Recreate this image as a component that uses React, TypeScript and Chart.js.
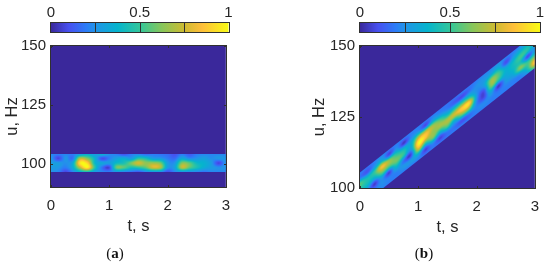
import React, { useEffect, useRef } from "react";
import { Chart, registerables } from "chart.js";

Chart.register(...registerables);

const FONT = "'Liberation Sans', Arial, sans-serif";
const TEXT = "#262626";
const timeGrid = [0, 0.125, 0.25, 0.375, 0.5, 0.625, 0.75, 0.875, 1, 1.125, 1.25, 1.375, 1.5, 1.625, 1.75, 1.875, 2, 2.125, 2.25, 2.375, 2.5, 2.625, 2.75, 2.875, 3];
const colorTicks = [0, 0.5, 1];
const colorDividers = [0.25, 0.5, 0.75];
const timeTicks = [0, 1, 2, 3];
const uTicksA = [100, 125, 150];
const uTicksB = [100, 125, 150];

const parulaStops = [0, 0.1, 0.2, 0.25, 0.375, 0.5, 0.625, 0.75, 0.85, 1];
const parulaColors = [
  [58, 40, 155], [71, 80, 240], [43, 125, 247], [33, 148, 232], [5, 180, 205],
  [50, 198, 155], [135, 198, 90], [205, 187, 50], [254, 190, 58], [249, 251, 21],
];

// Panel (a): rows from the top edge of the band downward, offsets in Hz around the band centre.
const offsetsA = [3.8, 1.9, 0, -1.9, -3.8];
const valuesA = [
  [0.22, 0.2, 0.22, 0.2, 0.28, 0.36, 0.28, 0.36, 0.24, 0.2, 0.1, 0.2, 0.22, 0.16, 0.2, 0.18, 0.16, 0.1, 0.2, 0.12, 0.2, 0.22, 0.22, 0.22, 0.22],
  [0.26, 0.08, 0.26, 0.18, 0.72, 0.62, 0.38, 0.1, 0.2, 0.3, 0.36, 0.28, 0.48, 0.44, 0.3, 0.28, 0.2, 0.16, 0.34, 0.24, 0.26, 0.3, 0.24, 0.26, 0.26],
  [0.28, 0.28, 0.24, 0.34, 0.95, 0.9, 0.4, 0.32, 0.28, 0.4, 0.44, 0.6, 0.76, 0.64, 0.66, 0.6, 0.28, 0.26, 0.62, 0.56, 0.4, 0.36, 0.28, 0.08, 0.26],
  [0.28, 0.26, 0.2, 0.34, 0.72, 0.98, 0.48, 0.18, 0.08, 0.58, 0.56, 0.44, 0.48, 0.56, 0.76, 0.7, 0.28, 0.3, 0.72, 0.56, 0.44, 0.34, 0.28, 0.24, 0.26],
  [0.24, 0.22, 0.08, 0.22, 0.36, 0.42, 0.28, 0.22, 0.2, 0.26, 0.22, 0.18, 0.12, 0.22, 0.26, 0.26, 0.1, 0.22, 0.26, 0.24, 0.22, 0.18, 0.22, 0.22, 0.22],
];

// Panel (b): rows follow the rising band.
const offsetsB = [6, 4, 2, 0, -2, -4, -6];
const valuesB = [
  [0.2, 0.18, 0.2, 0.22, 0.18, 0.2, 0.2, 0.2, 0.2, 0.18, 0.2, 0.18, 0.18, 0.17, 0.2, 0.18, 0.2, 0.22, 0.22, 0.24, 0.22, 0.2, 0.2, 0.22, 0.24],
  [0.2, 0.12, 0.26, 0.36, 0.1, 0.26, 0.05, 0.22, 0.26, 0.12, 0.3, 0.26, 0.2, 0.14, 0.1, 0.18, 0.24, 0.26, 0.32, 0.36, 0.1, 0.26, 0.36, 0.4, 0.38],
  [0.55, 0.42, 0.5, 0.82, 0.65, 0.5, 0.4, 0.34, 0.7, 0.75, 0.68, 0.56, 0.4, 0.46, 0.5, 0.44, 0.24, 0.28, 0.64, 0.55, 0.34, 0.4, 0.52, 0.44, 0.28],
  [0.45, 0.42, 0.36, 0.6, 0.55, 0.6, 0.48, 0.28, 0.97, 0.86, 0.66, 0.68, 0.7, 0.76, 0.88, 0.9, 0.28, 0.1, 0.62, 0.48, 0.34, 0.4, 0.44, 0.1, 0.32],
  [0.34, 0.28, 0.06, 0.28, 0.08, 0.4, 0.18, 0.08, 0.75, 0.48, 0.62, 0.4, 0.56, 0.38, 0.6, 0.6, 0.22, 0.08, 0.34, 0.06, 0.28, 0.34, 0.62, 0.5, 0.6],
  [0.24, 0.24, 0.18, 0.24, 0.2, 0.22, 0.26, 0.26, 0.32, 0.08, 0.24, 0.08, 0.2, 0.18, 0.12, 0.18, 0.22, 0.22, 0.22, 0.18, 0.22, 0.22, 0.26, 0.46, 0.9],
  [0.22, 0.2, 0.2, 0.22, 0.2, 0.2, 0.2, 0.2, 0.2, 0.18, 0.18, 0.18, 0.18, 0.2, 0.2, 0.2, 0.2, 0.2, 0.2, 0.2, 0.2, 0.2, 0.2, 0.26, 0.55],
];

function parula(v: number) {
  const x = Math.max(0, Math.min(1, v));
  let i = 0;
  while (i < parulaStops.length - 2 && x > parulaStops[i + 1]) i++;
  const f = (x - parulaStops[i]) / (parulaStops[i + 1] - parulaStops[i]);
  return parulaColors[i].map((c, k) => Math.round(c + (parulaColors[i + 1][k] - c) * f));
}
const rgb = (c: number[]) => `rgb(${c[0]},${c[1]},${c[2]})`;

function framePlugin(): any {
  return {
    id: "frame",
    afterDraw(chart: any) {
      const { ctx, chartArea: a, scales } = chart;
      ctx.save();
      ctx.strokeStyle = "#303030";
      ctx.lineWidth = 1;
      const L = Math.round(a.left) - 0.5, R = Math.round(a.right) + 0.5;
      const T = Math.round(a.top) - 0.5, B = Math.round(a.bottom) + 0.5;
      ctx.strokeRect(L, T, R - L, B - T);
      ctx.beginPath();
      for (const t of scales.x.ticks) {
        const x = Math.round(scales.x.getPixelForValue(t.value)) + 0.5;
        ctx.moveTo(x, T); ctx.lineTo(x, T + 2.5);
        ctx.moveTo(x, B); ctx.lineTo(x, B - 2.5);
      }
      for (const t of scales.y.ticks) {
        const y = Math.round(scales.y.getPixelForValue(t.value)) + 0.5;
        ctx.moveTo(L, y); ctx.lineTo(L + 2.5, y);
        ctx.moveTo(R, y); ctx.lineTo(R - 2.5, y);
      }
      ctx.stroke();
      ctx.restore();
    },
  };
}

// Catmull-Rom kernel: resamples the grid for display, colour-mapping afterwards.
function cubic(a: number, b: number, c: number, d: number, t: number) {
  return b + 0.5 * t * (c - a + t * (2 * a - 5 * b + 4 * c - d + t * (3 * (b - c) + d - a)));
}

function heatPlugin(values: number[][], offsets: number[], centre: number, slope: number): any {
  return {
    id: "heat",
    beforeDatasetsDraw(chart: any) {
      const { ctx, chartArea: a, scales } = chart;
      ctx.save();
      ctx.fillStyle = rgb(parula(0));
      ctx.fillRect(a.left, a.top, a.width, a.height);
      ctx.beginPath();
      ctx.rect(a.left, a.top, a.width, a.height);
      ctx.clip();
      const W = timeGrid.length, H = offsets.length, S = 8;
      const iw = (W - 1) * S + 1, ih = (H - 1) * S + 1;
      const off = document.createElement("canvas");
      off.width = iw; off.height = ih;
      const oc = off.getContext("2d")!;
      const img = oc.createImageData(iw, ih);
      const at = (j: number, i: number) => values[Math.max(0, Math.min(H - 1, j))][Math.max(0, Math.min(W - 1, i))];
      for (let py = 0; py < ih; py++) {
        const j = Math.min(H - 2, Math.floor(py / S)), fy = py / S - j;
        for (let px = 0; px < iw; px++) {
          const i = Math.min(W - 2, Math.floor(px / S)), fx = px / S - i;
          const col = [-1, 0, 1, 2].map((dj) =>
            cubic(at(j + dj, i - 1), at(j + dj, i), at(j + dj, i + 1), at(j + dj, i + 2), fx));
          const c = parula(cubic(col[0], col[1], col[2], col[3], fy));
          const p = (py * iw + px) * 4;
          img.data[p] = c[0]; img.data[p + 1] = c[1]; img.data[p + 2] = c[2]; img.data[p + 3] = 255;
        }
      }
      oc.putImageData(img, 0, 0);
      const t0 = timeGrid[0], t1 = timeGrid[W - 1];
      const x0 = scales.x.getPixelForValue(t0), x1 = scales.x.getPixelForValue(t1);
      const yAt = (t: number, o: number) => scales.y.getPixelForValue(centre + slope * t + o);
      const y00 = yAt(t0, offsets[0]);
      const yR = yAt(t1, offsets[0]);
      const yB = yAt(t0, offsets[H - 1]);
      ctx.transform((x1 - x0) / (iw - 1), (yR - y00) / (iw - 1), 0, (yB - y00) / (ih - 1), x0, y00);
      ctx.imageSmoothingEnabled = true;
      ctx.imageSmoothingQuality = "high";
      ctx.drawImage(off, 0.5, 0.5, iw - 1, ih - 1, 0, 0, iw - 1, ih - 1);
      ctx.restore();
    },
  };
}

const colorbarPlugin: any = {
  id: "colorbar",
  beforeDatasetsDraw(chart: any) {
    const { ctx, chartArea: a, scales } = chart;
    const g = ctx.createLinearGradient(a.left, 0, a.right, 0);
    parulaStops.forEach((s, i) => g.addColorStop(s, rgb(parulaColors[i])));
    ctx.save();
    ctx.fillStyle = g;
    ctx.fillRect(a.left, a.top, a.width, a.height);
    ctx.strokeStyle = "#303030";
    ctx.lineWidth = 1;
    const L = Math.round(a.left) - 0.5, R = Math.round(a.right) + 0.5;
    const T = Math.round(a.top) - 0.5, B = Math.round(a.bottom) + 0.5;
    ctx.strokeRect(L, T, R - L, B - T);
    ctx.beginPath();
    for (const d of colorDividers) {
      const x = Math.round(scales.x.getPixelForValue(d)) + 0.5;
      ctx.moveTo(x, T); ctx.lineTo(x, B);
    }
    ctx.stroke();
    ctx.restore();
  },
};

function Colorbar({ left, rightPad }: { left: number; rightPad: number }) {
  const ref = useRef<HTMLCanvasElement>(null);
  useEffect(() => {
    const chart = new Chart(ref.current!, {
      type: "scatter",
      data: { datasets: [{ data: colorTicks.map((x) => ({ x, y: 0 })), pointRadius: 0 }] },
      options: {
        animation: false, responsive: false,
        layout: { padding: { left: 51, right: rightPad, top: 0, bottom: 2 } },
        plugins: { legend: { display: false }, tooltip: { enabled: false } },
        scales: {
          x: {
            type: "linear", position: "top", min: 0, max: 1,
            afterBuildTicks: (s: any) => { s.ticks = colorTicks.map((value) => ({ value })); },
            afterFit: (s: any) => { s.height = 23; },
            grid: { display: false, drawTicks: false }, border: { display: false },
            ticks: { color: TEXT, padding: 1, maxRotation: 0, font: { family: FONT, size: 15 }, callback: (v: any) => String(v) },
          },
          y: { display: false, min: -1, max: 1 },
        },
      } as any,
      plugins: [colorbarPlugin],
    });
    return () => chart.destroy();
  }, []);
  return <canvas ref={ref} width={240} height={34} style={{ position: "absolute", left, top: 0 }} />;
}

function Heat({ left, rightPad, min, uTicks, values, offsets, centre, slope, canvasH, titlePad }: any) {
  const ref = useRef<HTMLCanvasElement>(null);
  useEffect(() => {
    const points = values.flatMap((row: number[], j: number) =>
      row.map((v, i) => ({ x: timeGrid[i], y: centre + slope * timeGrid[i] + offsets[j], v })));
    const chart = new Chart(ref.current!, {
      type: "scatter",
      data: { datasets: [{ data: points, pointRadius: 0 }] },
      options: {
        animation: false, responsive: false,
        layout: { padding: { left: 0, right: rightPad, top: 16, bottom: 0 } },
        plugins: { legend: { display: false }, tooltip: { enabled: false } },
        scales: {
          x: {
            type: "linear", min: 0, max: 3,
            afterBuildTicks: (s: any) => { s.ticks = timeTicks.map((value) => ({ value })); },
            afterFit: (s: any) => { s.height = 49; },
            grid: { display: false, drawTicks: false }, border: { display: false },
            ticks: { color: TEXT, padding: 10, maxRotation: 0, font: { family: FONT, size: 15 }, callback: (v: any) => String(v) },
            title: { display: true, text: "t, s", color: TEXT, font: { family: FONT, size: 16.5 }, padding: { top: 4, bottom: 0 } },
          },
          y: {
            type: "linear", min, max: 150,
            afterBuildTicks: (s: any) => { s.ticks = uTicks.map((value: number) => ({ value })); },
            afterFit: (s: any) => { s.width = 51; },
            grid: { display: false, drawTicks: false }, border: { display: false },
            ticks: { color: TEXT, padding: 5, font: { family: FONT, size: 15 }, callback: (v: any) => String(v) },
            title: { display: true, text: "u, Hz", color: TEXT, font: { family: FONT, size: 16.5 }, padding: { top: titlePad, bottom: 0 } },
          },
        },
      } as any,
      plugins: [heatPlugin(values, offsets, centre, slope), framePlugin()],
    });
    return () => chart.destroy();
  }, []);
  return <canvas ref={ref} width={240} height={canvasH} style={{ position: "absolute", left, top: 30 }} />;
}

function Caption({ x, letter }: { x: number; letter: string }) {
  return (
    <div style={{ position: "absolute", left: x - 30, width: 60, top: 245, textAlign: "center", font: "15px 'Liberation Serif', serif", color: "#111" }}>
      (<b>{letter}</b>)
    </div>
  );
}

export default function App() {
  return (
    <div style={{ position: "absolute", left: 0, top: 0, width: 550, height: 267, overflow: "hidden", background: "#fff" }}>
      <Colorbar left={0} rightPad={11.5} />
      <Colorbar left={309} rightPad={9} />
      <Heat left={0} rightPad={11.5} min={90} uTicks={uTicksA} values={valuesA} offsets={offsetsA} centre={100.2} slope={0} canvasH={206} titlePad={3} />
      <Heat left={309} rightPad={9} min={100} uTicks={uTicksB} values={valuesB} offsets={offsetsB} centre={99.5} slope={16.25} canvasH={207} titlePad={1} />
      <Caption x={115} letter="a" />
      <Caption x={424} letter="b" />
    </div>
  );
}
